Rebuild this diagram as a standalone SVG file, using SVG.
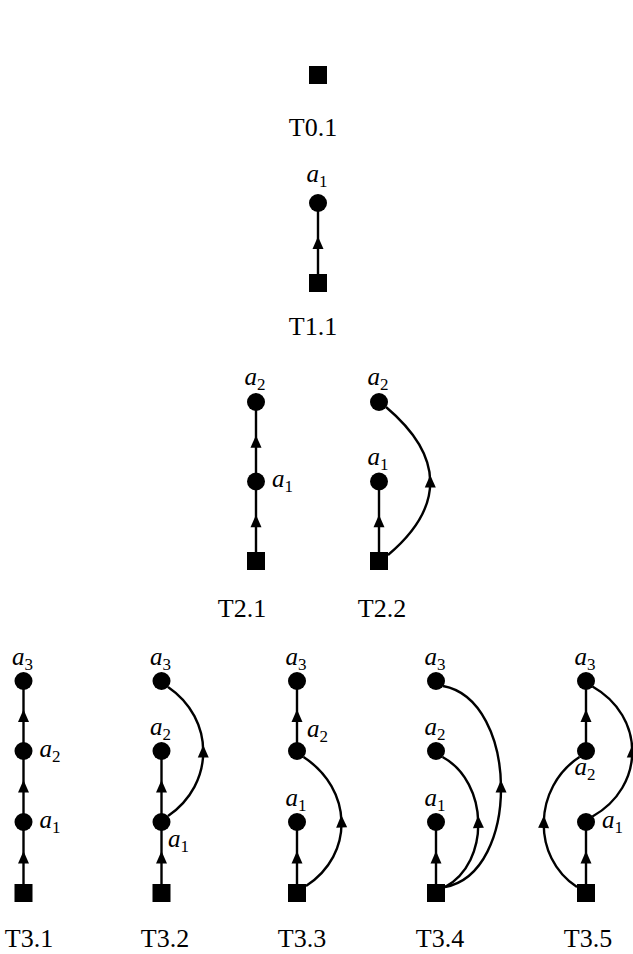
<svg xmlns="http://www.w3.org/2000/svg" width="633" height="954" viewBox="0 0 633 954">
  <style>
    .edge { fill: none; stroke: #000; stroke-width: 2.4; marker-mid: url(#arrow); }
    .dot { fill: #000; }
    .cap { font-family: "Liberation Serif", "DejaVu Serif", serif; font-size: 26px; text-anchor: middle; fill: #000; }
    .var { font-family: "Liberation Serif", "DejaVu Serif", serif; font-size: 25px; font-style: italic; fill: #000; }
    .mid { text-anchor: middle; }
    .sub { font-style: normal; font-size: 17px; }
  </style>
  <defs>
    <marker id="arrow" viewBox="-7 -6 14 12" markerWidth="14" markerHeight="12" refX="0" refY="0" orient="auto" markerUnits="userSpaceOnUse">
      <path d="M6.5 0 L-6 -5.5 L-6 5.5 Z" fill="#000"/>
    </marker>
  </defs>

  <rect width="633" height="954" fill="#fff"/>

  <!-- edges: straight ones carry a midpoint vertex, curved ones are split at t=0.5 -->
  <g id="connectors">
    <!-- T1.1 -->
    <path class="edge" d="M318 283 L318 243 L318 203"/>
    <!-- T2.1 -->
    <path class="edge" d="M256 561 L256 521.25 L256 481.5"/>
    <path class="edge" d="M256 481.5 L256 441.75 L256 402"/>
    <!-- T2.2 -->
    <path class="edge" d="M379 561 L379 521.25 L379 481.5"/>
    <path class="edge" d="M388 555 C416.5 531 430.5 506.25 430.25 481.5 C430 456.75 415.5 432 386 407"/>
    <!-- T3.1 -->
    <path class="edge" d="M23.5 893 L23.5 857.5 L23.5 822"/>
    <path class="edge" d="M23.5 822 L23.5 786.5 L23.5 751"/>
    <path class="edge" d="M23.5 751 L23.5 716 L23.5 681"/>
    <!-- T3.2 -->
    <path class="edge" d="M161.5 893 L161.5 857.5 L161.5 822"/>
    <path class="edge" d="M161.5 822 L161.5 786.5 L161.5 751"/>
    <path class="edge" d="M168 816 C191.5 800 203.25 775.75 203.25 751.5 C203.25 727.25 191.5 703 168 687"/>
    <!-- T3.3 -->
    <path class="edge" d="M297 893 L297 857.5 L297 822"/>
    <path class="edge" d="M297 751 L297 716 L297 681"/>
    <path class="edge" d="M306 886 C330.5 870 342.125 845.75 341.5 821.5 C340.875 797.25 328 773 303.5 757"/>
    <!-- T3.4 -->
    <path class="edge" d="M436 893 L436 857.5 L436 822"/>
    <path class="edge" d="M445 887 C468 874.5 478.875 848.25 478.25 822 C477.625 795.75 465.5 769.5 442.5 757"/>
    <path class="edge" d="M445 887 C483 880 501.5 833.25 501 786.5 C500.5 739.75 481 693 443 686"/>
    <!-- T3.5 -->
    <path class="edge" d="M586 893 L586 857.5 L586 822"/>
    <path class="edge" d="M586 751 L586 716 L586 681"/>
    <path class="edge" d="M592.5 816.5 C619 801.5 632.25 776.5 632.25 751.5 C632.25 726.5 619 701.5 592.5 686.5"/>
    <path class="edge" d="M577 887 C554 872 543.125 847 543.75 822 C544.375 797 556.5 772 579.5 757"/>
  </g>

  <!-- T0.1 -->
  <g id="t0-1-root"><rect class="dot" x="309" y="66" width="18" height="18"/></g>

  <!-- T1.1 -->
  <g id="t1-1-root"><rect class="dot" x="309" y="274" width="18" height="18"/></g>
  <g id="t1-1-a1"><circle class="dot" cx="318" cy="203" r="9"/>
    <text class="var mid" x="317" y="182">a<tspan class="sub" dy="4.5">1</tspan></text></g>

  <!-- T2.1 -->
  <g id="t2-1-root"><rect class="dot" x="247" y="552" width="18" height="18"/></g>
  <g id="t2-1-a1"><circle class="dot" cx="256" cy="481.5" r="9"/>
    <text class="var" x="272" y="487">a<tspan class="sub" dy="4.5">1</tspan></text></g>
  <g id="t2-1-a2"><circle class="dot" cx="256" cy="402" r="9"/>
    <text class="var mid" x="255" y="385">a<tspan class="sub" dy="4.5">2</tspan></text></g>

  <!-- T2.2 -->
  <g id="t2-2-root"><rect class="dot" x="370" y="552" width="18" height="18"/></g>
  <g id="t2-2-a1"><circle class="dot" cx="379" cy="481.5" r="9"/>
    <text class="var mid" x="378" y="465">a<tspan class="sub" dy="4.5">1</tspan></text></g>
  <g id="t2-2-a2"><circle class="dot" cx="379" cy="402" r="9"/>
    <text class="var mid" x="378" y="385">a<tspan class="sub" dy="4.5">2</tspan></text></g>

  <!-- T3.1 -->
  <g id="t3-1-root"><rect class="dot" x="14.5" y="884" width="18" height="18"/></g>
  <g id="t3-1-a1"><circle class="dot" cx="23.5" cy="822" r="9"/>
    <text class="var" x="39.5" y="828">a<tspan class="sub" dy="4.5">1</tspan></text></g>
  <g id="t3-1-a2"><circle class="dot" cx="23.5" cy="751" r="9"/>
    <text class="var" x="39.5" y="757">a<tspan class="sub" dy="4.5">2</tspan></text></g>
  <g id="t3-1-a3"><circle class="dot" cx="23.5" cy="681" r="9"/>
    <text class="var mid" x="22.5" y="665">a<tspan class="sub" dy="4.5">3</tspan></text></g>

  <!-- T3.2 -->
  <g id="t3-2-root"><rect class="dot" x="152.5" y="884" width="18" height="18"/></g>
  <g id="t3-2-a1"><circle class="dot" cx="161.5" cy="822" r="9"/>
    <text class="var" x="168" y="847">a<tspan class="sub" dy="4.5">1</tspan></text></g>
  <g id="t3-2-a2"><circle class="dot" cx="161.5" cy="751" r="9"/>
    <text class="var mid" x="160.5" y="735">a<tspan class="sub" dy="4.5">2</tspan></text></g>
  <g id="t3-2-a3"><circle class="dot" cx="161.5" cy="681" r="9"/>
    <text class="var mid" x="160.5" y="665">a<tspan class="sub" dy="4.5">3</tspan></text></g>

  <!-- T3.3 -->
  <g id="t3-3-root"><rect class="dot" x="288" y="884" width="18" height="18"/></g>
  <g id="t3-3-a1"><circle class="dot" cx="297" cy="822" r="9"/>
    <text class="var mid" x="296" y="806">a<tspan class="sub" dy="4.5">1</tspan></text></g>
  <g id="t3-3-a2"><circle class="dot" cx="297" cy="751" r="9"/>
    <text class="var" x="307" y="737">a<tspan class="sub" dy="4.5">2</tspan></text></g>
  <g id="t3-3-a3"><circle class="dot" cx="297" cy="681" r="9"/>
    <text class="var mid" x="296" y="665">a<tspan class="sub" dy="4.5">3</tspan></text></g>

  <!-- T3.4 -->
  <g id="t3-4-root"><rect class="dot" x="427" y="884" width="18" height="18"/></g>
  <g id="t3-4-a1"><circle class="dot" cx="436" cy="822" r="9"/>
    <text class="var mid" x="435" y="806">a<tspan class="sub" dy="4.5">1</tspan></text></g>
  <g id="t3-4-a2"><circle class="dot" cx="436" cy="751" r="9"/>
    <text class="var mid" x="435" y="735">a<tspan class="sub" dy="4.5">2</tspan></text></g>
  <g id="t3-4-a3"><circle class="dot" cx="436" cy="681" r="9"/>
    <text class="var mid" x="435" y="665">a<tspan class="sub" dy="4.5">3</tspan></text></g>

  <!-- T3.5 -->
  <g id="t3-5-root"><rect class="dot" x="577" y="884" width="18" height="18"/></g>
  <g id="t3-5-a1"><circle class="dot" cx="586" cy="822" r="9"/>
    <text class="var" x="602" y="828">a<tspan class="sub" dy="4.5">1</tspan></text></g>
  <g id="t3-5-a2"><circle class="dot" cx="586" cy="751" r="9"/>
    <text class="var mid" x="585" y="775">a<tspan class="sub" dy="4.5">2</tspan></text></g>
  <g id="t3-5-a3"><circle class="dot" cx="586" cy="681" r="9"/>
    <text class="var mid" x="585" y="665">a<tspan class="sub" dy="4.5">3</tspan></text></g>

  <!-- captions under each tree -->
  <g id="captions">
    <text class="cap" x="313" y="136">T0.1</text>
    <text class="cap" x="313" y="335">T1.1</text>
    <text class="cap" x="242" y="617">T2.1</text>
    <text class="cap" x="382" y="617">T2.2</text>
    <text class="cap" x="29" y="947">T3.1</text>
    <text class="cap" x="165" y="947">T3.2</text>
    <text class="cap" x="302" y="947">T3.3</text>
    <text class="cap" x="440" y="947">T3.4</text>
    <text class="cap" x="588" y="947">T3.5</text>
  </g>
</svg>
